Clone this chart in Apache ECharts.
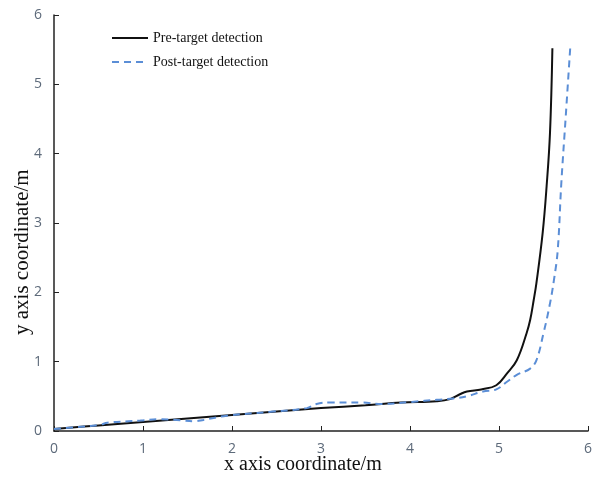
<!DOCTYPE html>
<html>
<head>
<meta charset="utf-8">
<script src="https://cdn.jsdelivr.net/npm/echarts@6/dist/echarts.min.js"></script>
<style>html,body{margin:0;padding:0;background:#fff}#c{width:595px;height:479px}</style>
</head>
<body>
<div id="c"></div>
<script>
var xTicks = [0, 1, 2, 3, 4, 5, 6];
var yTicks = [0, 1, 2, 3, 4, 5, 6];
var seriesNames = ['Pre-target detection', 'Post-target detection'];
var preX = [0, 0.5, 1, 1.5, 2, 2.5, 3, 3.5, 3.9, 4.3, 4.45, 4.56, 4.64, 4.8, 4.97, 5.09, 5.2, 5.31, 5.35, 5.39, 5.42, 5.49, 5.535, 5.573, 5.6];
var preY = [0.03, 0.08, 0.13, 0.18, 0.23, 0.28, 0.33, 0.37, 0.41, 0.43, 0.46, 0.53, 0.57, 0.60, 0.66, 0.83, 1.02, 1.41, 1.60, 1.89, 2.13, 2.85, 3.53, 4.3, 5.52];
var postX = [0, 0.3, 0.52, 0.6, 0.97, 1.19, 1.42, 1.57, 1.68, 1.94, 2.46, 2.84, 2.95, 3.1, 3.46, 3.68, 4.02, 4.3, 4.49, 4.64, 4.82, 4.97, 5.09, 5.2, 5.35, 5.42, 5.5, 5.57, 5.62, 5.66, 5.7, 5.75, 5.8];
var postY = [0.03, 0.06, 0.09, 0.12, 0.15, 0.17, 0.155, 0.14, 0.16, 0.22, 0.28, 0.33, 0.39, 0.41, 0.41, 0.39, 0.42, 0.45, 0.47, 0.50, 0.57, 0.60, 0.71, 0.81, 0.90, 1.02, 1.41, 1.82, 2.2, 2.61, 3.57, 4.54, 5.52];

function pairs(xs, ys) { return xs.map(function (x, i) { return [x, ys[i]]; }); }

var chart = echarts.init(document.getElementById('c'), null, {renderer: 'canvas'});
var labelStyle = {color: '#5d6a7a', fontFamily: 'Open Sans', fontSize: 14};
chart.setOption({
  animation: false,
  backgroundColor: '#fff',
  grid: {left: 54, right: 7, top: 15, bottom: 48},
  legend: {
    orient: 'vertical', left: 106, top: 26, itemWidth: 36, itemHeight: 10, itemGap: 10,
    itemStyle: {opacity: 0},
    textStyle: {fontFamily: 'Liberation Serif', fontSize: 14, color: '#111'},
    data: seriesNames
  },
  xAxis: {
    type: 'value', min: xTicks[0], max: xTicks[xTicks.length - 1], interval: 1,
    axisLine: {lineStyle: {color: '#222', width: 1.5}},
    axisTick: {inside: true, length: 5, lineStyle: {color: '#222'}},
    axisLabel: Object.assign({margin: 11}, labelStyle),
    splitLine: {show: false}
  },
  yAxis: {
    type: 'value', min: yTicks[0], max: yTicks[yTicks.length - 1], interval: 1,
    axisLine: {show: true, lineStyle: {color: '#222', width: 1.5}},
    axisTick: {show: true, inside: true, length: 5, lineStyle: {color: '#222'}},
    axisLabel: Object.assign({margin: 12}, labelStyle),
    splitLine: {show: false}
  },
  graphic: [
    {type: 'text', left: 224, top: 455, style: {text: 'x axis coordinate/m', fill: '#111', font: '20px "Liberation Serif"'}},
    {type: 'text', rotation: Math.PI / 2, x: 12, y: 335, style: {text: 'y axis coordinate/m', fill: '#111', font: '21px "Liberation Serif"'}}
  ],
  series: [
    {name: seriesNames[0], type: 'line', data: pairs(preX, preY), smooth: 0.4, symbol: 'none',
     lineStyle: {color: '#111', width: 2}, itemStyle: {color: '#111'}},
    {name: seriesNames[1], type: 'line', data: pairs(postX, postY), smooth: 0.4, symbol: 'none',
     lineStyle: {color: '#5b8ed6', width: 2, type: [7, 5]}, itemStyle: {color: '#5b8ed6'}}
  ]
});
</script>
</body>
</html>
